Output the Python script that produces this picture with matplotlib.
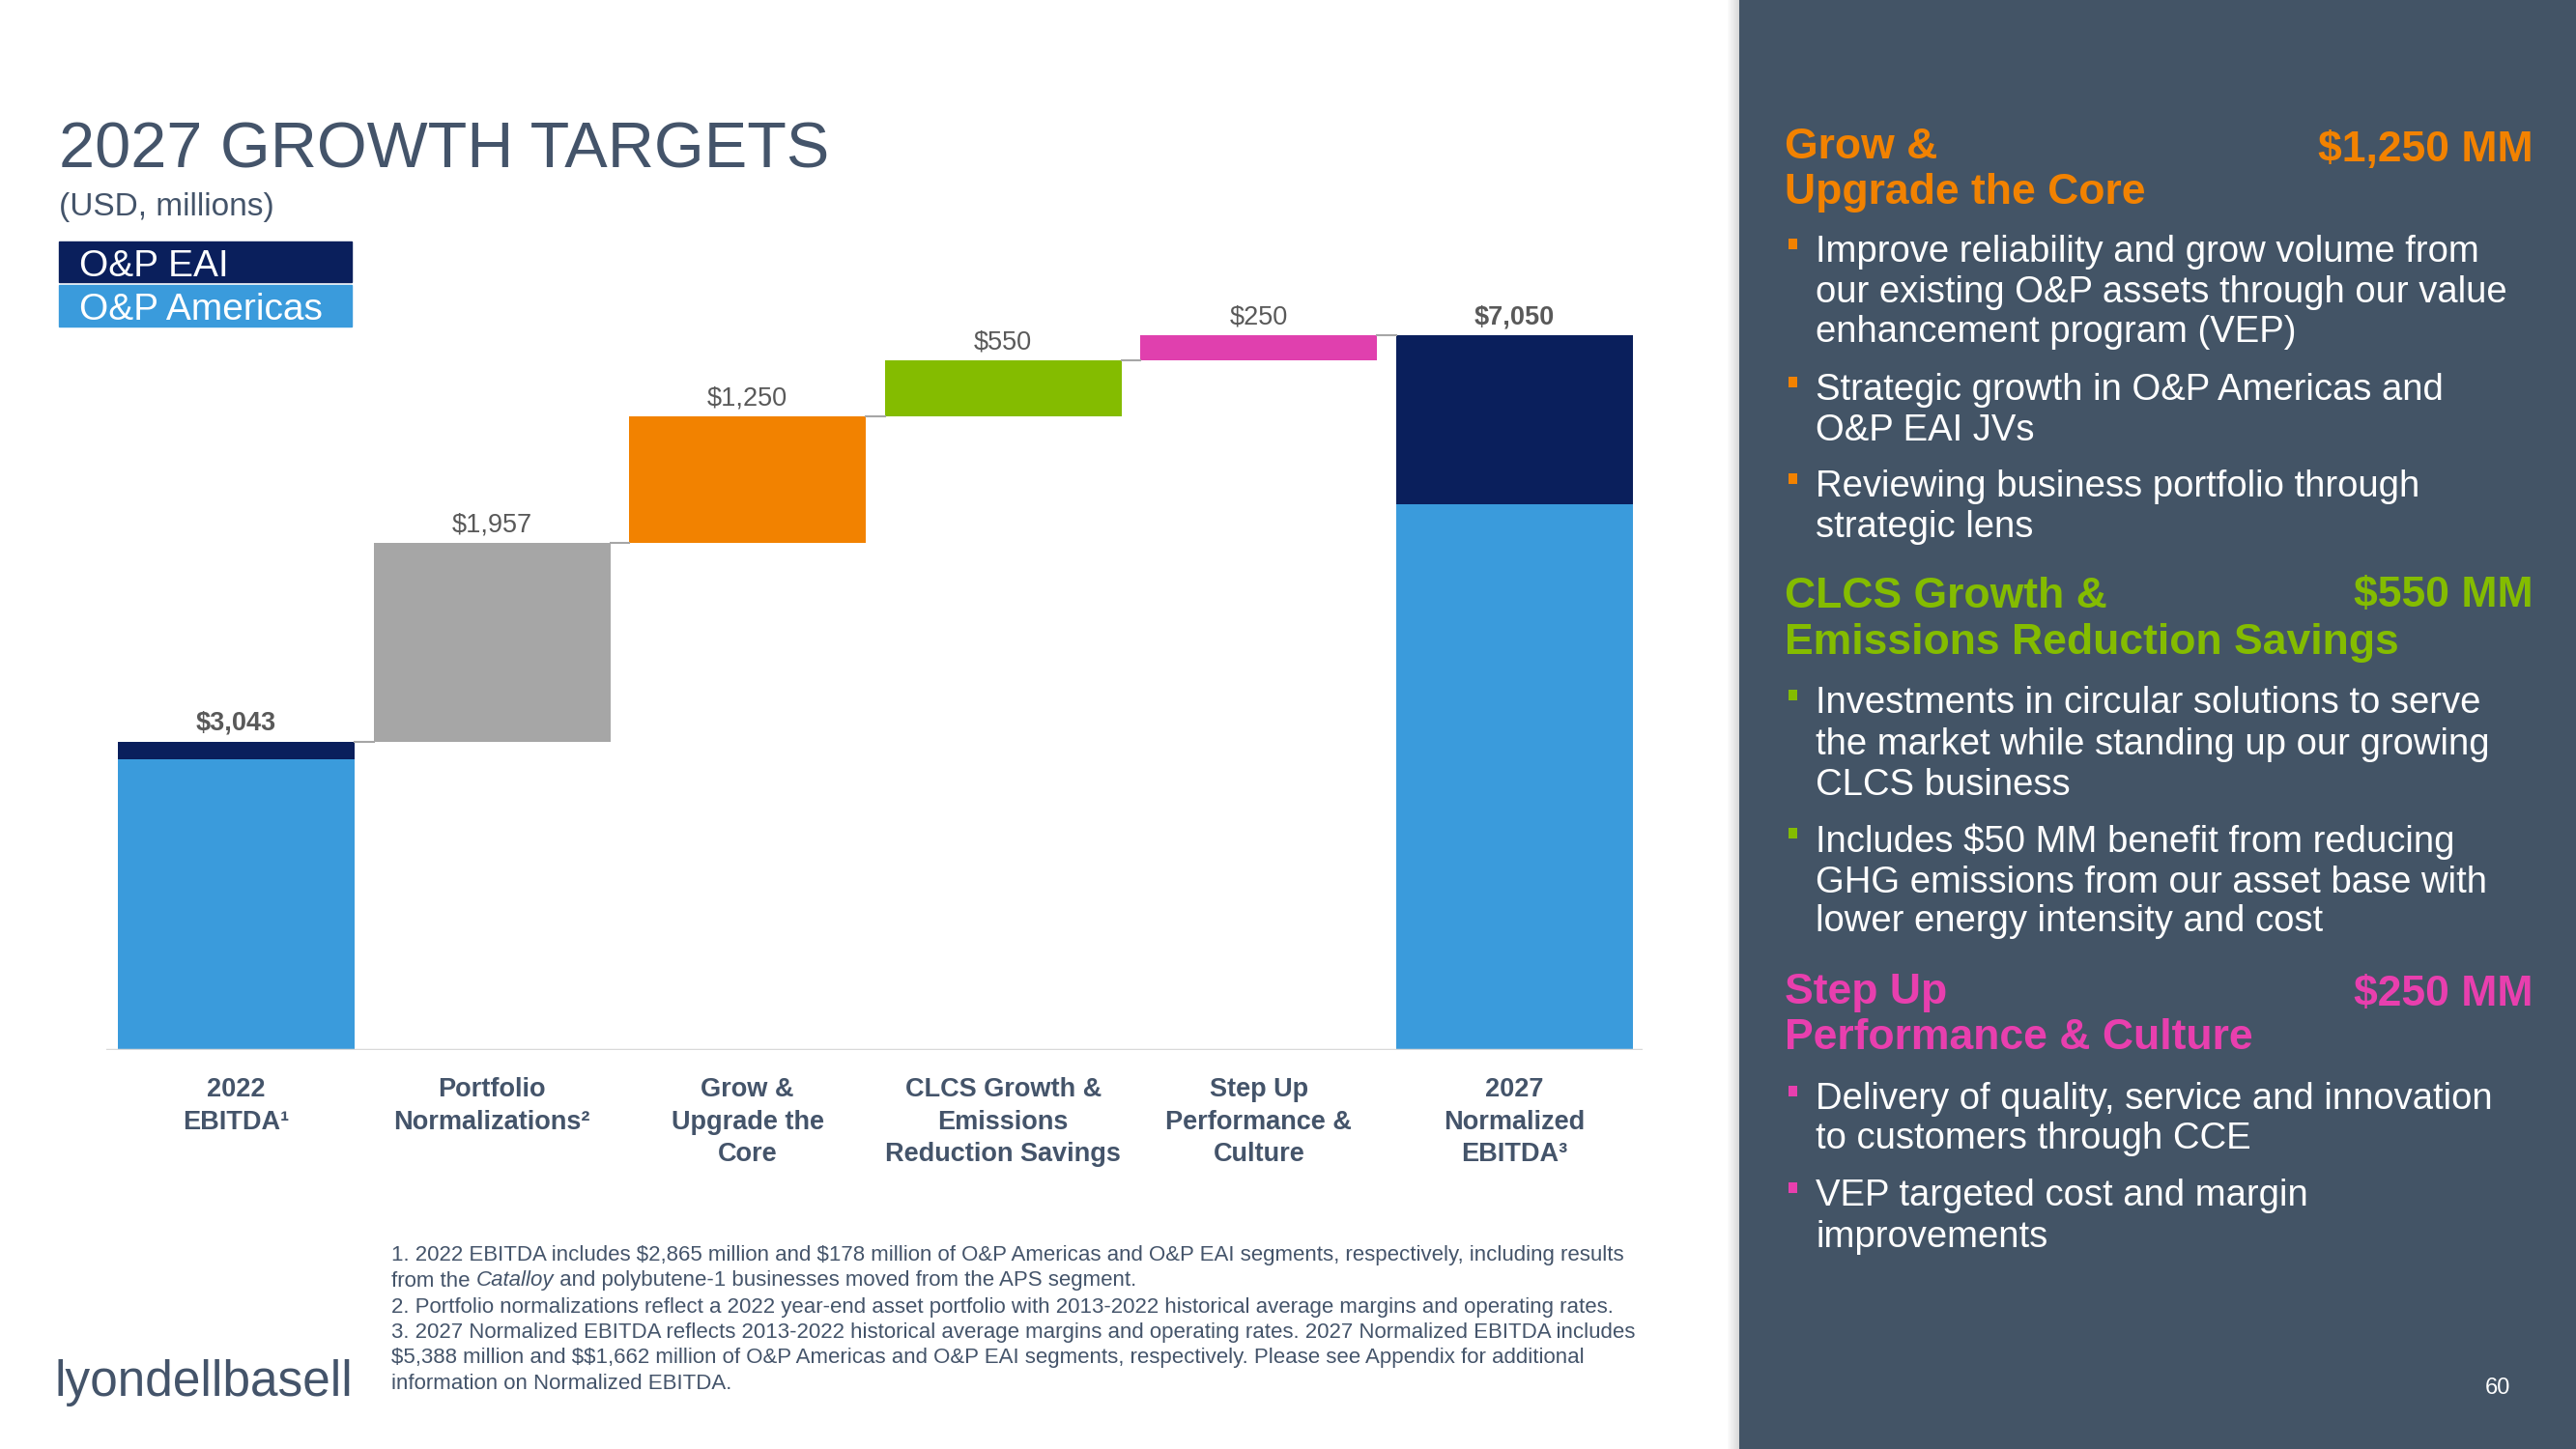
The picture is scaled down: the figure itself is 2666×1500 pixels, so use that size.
import matplotlib
matplotlib.use("Agg")
from matplotlib import pyplot
from matplotlib.patches import Rectangle

pyplot.rcParams['font.family'] = ['Liberation Sans', 'DejaVu Sans']
pyplot.rcParams['text.parse_math'] = False

# data
categories = ['2022\nEBITDA¹', 'Portfolio\nNormalizations²', 'Grow &\nUpgrade the\nCore',
              'CLCS Growth &\nEmissions\nReduction Savings', 'Step Up\nPerformance &\nCulture',
              '2027\nNormalized\nEBITDA³']
start_americas = 2865
start_eai = 178
steps = [1957, 1250, 550, 250]
end_americas = 5388
end_eai = 1662
value_labels = ['$3,043', '$1,957', '$1,250', '$550', '$250', '$7,050']
bold_labels = [True, False, False, False, False, True]

NAVY = '#0A1F5C'
LIGHT = '#3A9BDC'
step_colors = ['#A6A6A6', '#F28200', '#84BC00', '#E040AE']
SLATE = '#44546A'
PANEL = '#435466'

W, H = 2666, 1500


def fx(px):
    return px / W


def fy(py):
    return 1 - py / H


fig = pyplot.figure(figsize=(W / 100, H / 100), dpi=100)
fig.patch.set_facecolor('white')

# ---- waterfall
ax = fig.add_axes([fx(110), fy(1087), fx(1700) - fx(110), 787 / H])
ax.set_xlim(-0.508, 5.501)
ax.set_ylim(0, 7500)
ax.axis('off')
bw = 0.926

ax.bar(0, start_americas, bw, color=LIGHT)
ax.bar(0, start_eai, bw, bottom=start_americas, color=NAVY)
tops = [start_americas + start_eai]
bottom = tops[0]
for i, (v, c) in enumerate(zip(steps, step_colors)):
    ax.bar(i + 1, v, bw, bottom=bottom, color=c)
    bottom += v
    tops.append(bottom)
ax.bar(5, end_americas, bw, color=LIGHT)
ax.bar(5, end_eai, bw, bottom=end_americas, color=NAVY)
tops.append(end_americas + end_eai)

# connectors
for i in range(5):
    ax.plot([i + bw / 2, i + 1 - bw / 2], [tops[i], tops[i]], color='#A6A6A6', lw=1.5)

ax.axhline(0, color='#D9D9D9', lw=2.5, xmin=0, xmax=1)

for i, (lab, b) in enumerate(zip(value_labels, bold_labels)):
    ax.annotate(lab, (i, tops[i]), xytext=(0, 8.5), textcoords='offset points',
                ha='center', va='baseline', fontsize=19.5, color='#595959',
                fontweight='bold' if b else 'normal')

for i, cat in enumerate(categories):
    ax.annotate(cat, (i, 0), xytext=(0, -20), textcoords='offset points',
                ha='center', va='top', fontsize=19.5, color=SLATE, fontweight='bold',
                linespacing=1.39)

# ---- title, legend
fig.text(fx(61), fy(173), '2027 GROWTH TARGETS', fontsize=48, color=SLATE, va='baseline')
fig.text(fx(61), fy(223), '(USD, millions)', fontsize=24, color=SLATE, va='baseline')

fig.patches.append(Rectangle((fx(61), fy(292)), fx(364) - fx(61), 42 / H,
                             transform=fig.transFigure, color=NAVY))
fig.patches.append(Rectangle((fx(61), fy(338)), fx(364) - fx(61), 43 / H,
                             transform=fig.transFigure, color=LIGHT))
fig.text(fx(82), fy(276), 'O&P EAI', fontsize=28, color='white', va='center')
fig.text(fx(82), fy(321), 'O&P Americas', fontsize=28, color='white', va='center')

# ---- footnotes
renderer = fig.canvas.get_renderer()
fn_x = 405
fn_size = 16
fn_lines = [
    (1300, '1. 2022 EBITDA includes $2,865 million and $178 million of O&P Americas and O&P EAI segments, respectively, including results'),
    (1353, '2. Portfolio normalizations reflect a 2022 year-end asset portfolio with 2013-2022 historical average margins and operating rates.'),
    (1379, '3. 2027 Normalized EBITDA reflects 2013-2022 historical average margins and operating rates. 2027 Normalized EBITDA includes'),
    (1406, '$5,388 million and $$1,662 million of O&P Americas and O&P EAI segments, respectively. Please see Appendix for additional'),
    (1433, 'information on Normalized EBITDA.'),
]
for y, s in fn_lines:
    fig.text(fx(fn_x), fy(y), s, fontsize=fn_size, color=SLATE, va='center')

x = fn_x
for s, style in [('from the ', 'normal'), ('Catalloy', 'italic'),
                 (' and polybutene-1 businesses moved from the APS segment.', 'normal')]:
    t = fig.text(fx(x), fy(1326), s, fontsize=fn_size, color=SLATE, va='center', style=style)
    x = t.get_window_extent(renderer).x1

# logo
fig.text(fx(56), fy(1445), 'lyondellbasell', fontsize=37, color=SLATE, va='baseline')

# ---- right panel
for k in range(12):
    fig.patches.append(Rectangle((fx(1788 + k), 0), 1 / W, 1, transform=fig.transFigure,
                                 color='#9A9A9A', alpha=0.04 + 0.03 * k, lw=0))
fig.patches.append(Rectangle((fx(1800), 0), 1 - fx(1800), 1, transform=fig.transFigure,
                             color=PANEL, lw=0))

sections = [
    ('#F28200', ['Grow &', 'Upgrade the Core'], '$1,250 MM', [148, 196], 151,
     [(257, 'Improve reliability and grow volume from', True),
      (299, 'our existing O&P assets through our value', False),
      (340, 'enhancement program (VEP)', False),
      (400, 'Strategic growth in O&P Americas and', True),
      (442, 'O&P EAI JVs', False),
      (500, 'Reviewing business portfolio through', True),
      (542, 'strategic lens', False)]),
    ('#84BC00', ['CLCS Growth &', 'Emissions Reduction Savings'], '$550 MM', [614, 661], 612,
     [(724, 'Investments in circular solutions to serve', True),
      (767, 'the market while standing up our growing', False),
      (809, 'CLCS business', False),
      (867, 'Includes $50 MM benefit from reducing', True),
      (910, 'GHG emissions from our asset base with', False),
      (950, 'lower energy intensity and cost', False)]),
    ('#E83FAE', ['Step Up', 'Performance & Culture'], '$250 MM', [1024, 1071], 1025,
     [(1134, 'Delivery of quality, service and innovation', True),
      (1175, 'to customers through CCE', False),
      (1234, 'VEP targeted cost and margin', True),
      (1277, 'improvements', False)]),
]
dy = 4
for color, heads, amount, head_y, amt_y, bullets in sections:
    for s, y in zip(heads, head_y):
        fig.text(fx(1847), fy(y + dy), s, fontsize=32, color=color, fontweight='bold', va='center')
    fig.text(fx(2622), fy(amt_y + dy), amount, fontsize=32, color=color, fontweight='bold',
             va='center', ha='right')
    for y, s, first in bullets:
        fig.text(fx(1879), fy(y + dy), s, fontsize=27.5, color='white', va='center')
        if first:
            fig.patches.append(Rectangle((fx(1851), fy(y + 1)), 9 / W, 11 / H,
                                         transform=fig.transFigure, color=color, lw=0))

fig.text(fx(2598), fy(1437), '60', fontsize=17, color='white', va='center', ha='right')

pyplot.savefig('out.png', dpi=100)
